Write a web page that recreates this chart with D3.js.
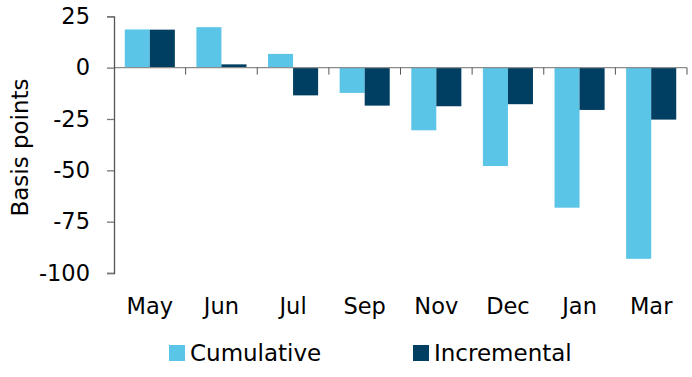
<!DOCTYPE html>
<html>
<head>
<meta charset="utf-8">
<script src="https://cdn.jsdelivr.net/npm/d3@7"></script>
<style>
  body { margin: 0; background: #fff; }
  text { font-family: "DejaVu Sans", Verdana, sans-serif; fill: #000; }
</style>
</head>
<body>
<svg id="chart"></svg>
<script>
// values
const months = ["May", "Jun", "Jul", "Sep", "Nov", "Dec", "Jan", "Mar"];
const cumulative = [18.6, 19.7, 6.7, -12.3, -30.5, -47.9, -68.2, -93.1];
const incremental = [18.5, 1.6, -13.5, -18.5, -18.8, -17.8, -20.6, -25.3];
const seriesNames = ["Cumulative", "Incremental"];
const yTicks = [25, 0, -25, -50, -75, -100];

const width = 692, height = 377;
const colors = ["#5bc5e8", "#003f62"];
const fontSize = "22.5px";

const svg = d3.select("#chart")
    .attr("width", width)
    .attr("height", height);

const x0 = d3.scaleBand()
    .domain(months)
    .range([114, 687])
    .padding(0);

const x1 = d3.scaleBand()
    .domain(seriesNames)
    .range([0, x0.bandwidth()])
    .paddingInner(0)
    .paddingOuter(0.43);

const y = d3.scaleLinear()
    .domain([-100, 25])
    .range([273, 16.3]);

const rows = months.map((m, i) => ({
    month: m,
    values: [cumulative[i], incremental[i]]
}));

// bars
const group = svg.append("g")
    .selectAll("g")
    .data(rows)
    .join("g")
    .attr("transform", d => `translate(${x0(d.month)},0)`);

group.selectAll("rect")
    .data(d => d.values.map((v, j) => ({ key: seriesNames[j], value: v, j })))
    .join("rect")
    .attr("x", d => x1(d.key))
    .attr("width", x1.bandwidth())
    .attr("y", d => y(Math.max(0, d.value)))
    .attr("height", d => Math.abs(y(d.value) - y(0)))
    .attr("fill", d => colors[d.j]);

// zero line with category ticks
const xAxis = svg.append("g")
    .attr("transform", `translate(0,${y(0)})`);
xAxis.append("line")
    .attr("x1", 114).attr("x2", 687)
    .attr("stroke", "#8c8c8c")
    .attr("stroke-width", 1.3);
xAxis.selectAll("line.tick")
    .data(months)
    .join("line")
    .attr("class", "tick")
    .attr("x1", d => x0(d) + x0.bandwidth())
    .attr("x2", d => x0(d) + x0.bandwidth())
    .attr("y1", 0).attr("y2", 7)
    .attr("stroke", "#555")
    .attr("stroke-width", 1);

// month labels
svg.append("g")
    .selectAll("text")
    .data(months)
    .join("text")
    .attr("x", d => x0(d) + x0.bandwidth() / 2)
    .attr("y", 314)
    .attr("text-anchor", "middle")
    .attr("font-size", fontSize)
    .text(d => d);

// y axis
const yAxis = svg.append("g")
    .attr("transform", "translate(114,0)")
    .call(d3.axisLeft(y).tickValues(yTicks).tickSize(7).tickPadding(17).tickFormat(d => String(d)));
yAxis.select(".domain").attr("stroke", "#555").attr("stroke-width", 1.3);
yAxis.selectAll(".tick line").attr("stroke", "#777").attr("stroke-width", 1.3);
yAxis.selectAll(".tick text")
    .attr("font-size", fontSize)
    .attr("font-family", "DejaVu Sans, Verdana, sans-serif")
    .attr("fill", "#000");

svg.append("text")
    .attr("transform", "translate(28,147.5) rotate(-90)")
    .attr("text-anchor", "middle")
    .attr("font-size", "23px")
    .text("Basis points");

// legend
const legendX = [169, 413];
const legend = svg.append("g")
    .selectAll("g")
    .data(seriesNames)
    .join("g")
    .attr("transform", (d, i) => `translate(${legendX[i]},345)`);
legend.append("rect")
    .attr("width", 16).attr("height", 16)
    .attr("fill", (d, i) => colors[i]);
legend.append("text")
    .attr("x", 21).attr("y", 16)
    .attr("font-size", "23px")
    .text(d => d);
</script>
</body>
</html>
